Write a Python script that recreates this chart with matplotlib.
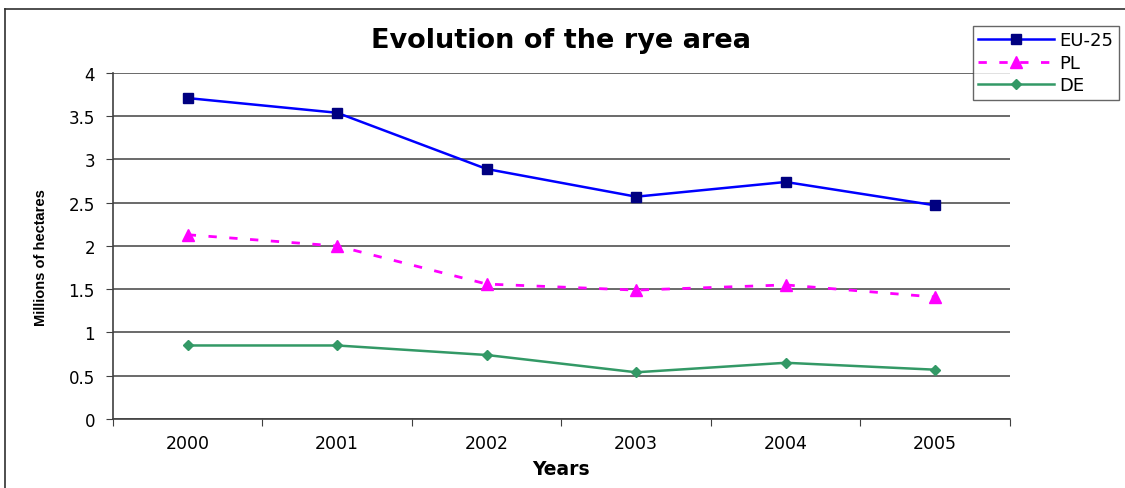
import matplotlib
matplotlib.use("Agg")
import matplotlib.pyplot as plt
from matplotlib.lines import Line2D

plt.rcParams['font.family'] = ['DejaVu Sans']

# Rye area, millions of hectares
years = ['2000', '2001', '2002', '2003', '2004', '2005']
eu25 = [3.71, 3.54, 2.89, 2.57, 2.74, 2.47]
pl = [2.13, 2.00, 1.56, 1.49, 1.55, 1.41]
de = [0.85, 0.85, 0.74, 0.54, 0.65, 0.57]
y_ticks = [0, 0.5, 1, 1.5, 2, 2.5, 3, 3.5, 4]
y_tick_labels = ['0', '0.5', '1', '1.5', '2', '2.5', '3', '3.5', '4']

fig = plt.figure(figsize=(11.25, 4.89), dpi=100)
ax = fig.add_axes([0.1004, 0.1411, 0.7973, 0.7076])

x = list(range(len(years)))
ax.plot(x, eu25, color='#0000ff', lw=1.8, marker='s', ms=7,
        mfc='#000080', mec='#000080', label='EU-25')
ax.plot(x, pl, color='#ff00ff', lw=2, ls=(0, (3, 4.5)), marker='^', ms=9,
        mfc='#ff00ff', mec='#ff00ff', label='PL')
ax.plot(x, de, color='#339966', lw=1.8, marker='D', ms=5.5,
        mfc='#339966', mec='#339966', label='DE')

ax.set_xlim(-0.5, len(years) - 0.5)
ax.set_ylim(0, 4)
ax.set_yticks(y_ticks)
ax.set_yticklabels(y_tick_labels, fontsize=12)
ax.set_xticks(x)
ax.set_xticklabels(years, fontsize=12.5)
ax.set_xticks([i - 0.5 for i in range(len(years) + 1)], minor=True)
ax.tick_params(axis='x', which='major', length=0, pad=11)
ax.tick_params(axis='x', which='minor', length=5, width=0.8, color='#404040')
ax.tick_params(axis='y', length=5, width=0.8, color='#404040', pad=8)

ax.grid(axis='y', color='#505050', lw=1.2)
ax.set_axisbelow(True)
for side in ['top', 'right']:
    ax.spines[side].set_visible(False)
for side in ['left', 'bottom']:
    ax.spines[side].set_color('#404040')
    ax.spines[side].set_linewidth(1.2)

ax.set_title('Evolution of the rye area', fontsize=19.5, fontweight='bold', pad=19)
ax.set_xlabel('Years', fontsize=13.5, fontweight='bold', labelpad=5)
ax.set_ylabel('Millions of hectares', fontsize=10.5, fontweight='bold',
              family=['Liberation Sans', 'DejaVu Sans'])
ax.yaxis.set_label_coords(-0.072, 0.47)

fig.legend(loc='upper left', bbox_to_anchor=(973 / 1125, 1 - 27 / 489),
           fontsize=13, frameon=True, fancybox=False, edgecolor='#404040',
           handlelength=4.2, borderpad=0.3, labelspacing=0.25, handletextpad=0.3,
           borderaxespad=0)

# outer chart frame
fig.add_artist(Line2D([5 / 1125, 1.0], [1 - 10 / 489, 1 - 10 / 489],
                      transform=fig.transFigure, color='#303030', lw=1.2))
fig.add_artist(Line2D([5 / 1125, 5 / 1125], [0, 1 - 10 / 489],
                      transform=fig.transFigure, color='#303030', lw=1.2))

fig.savefig('out.png', dpi=100)
